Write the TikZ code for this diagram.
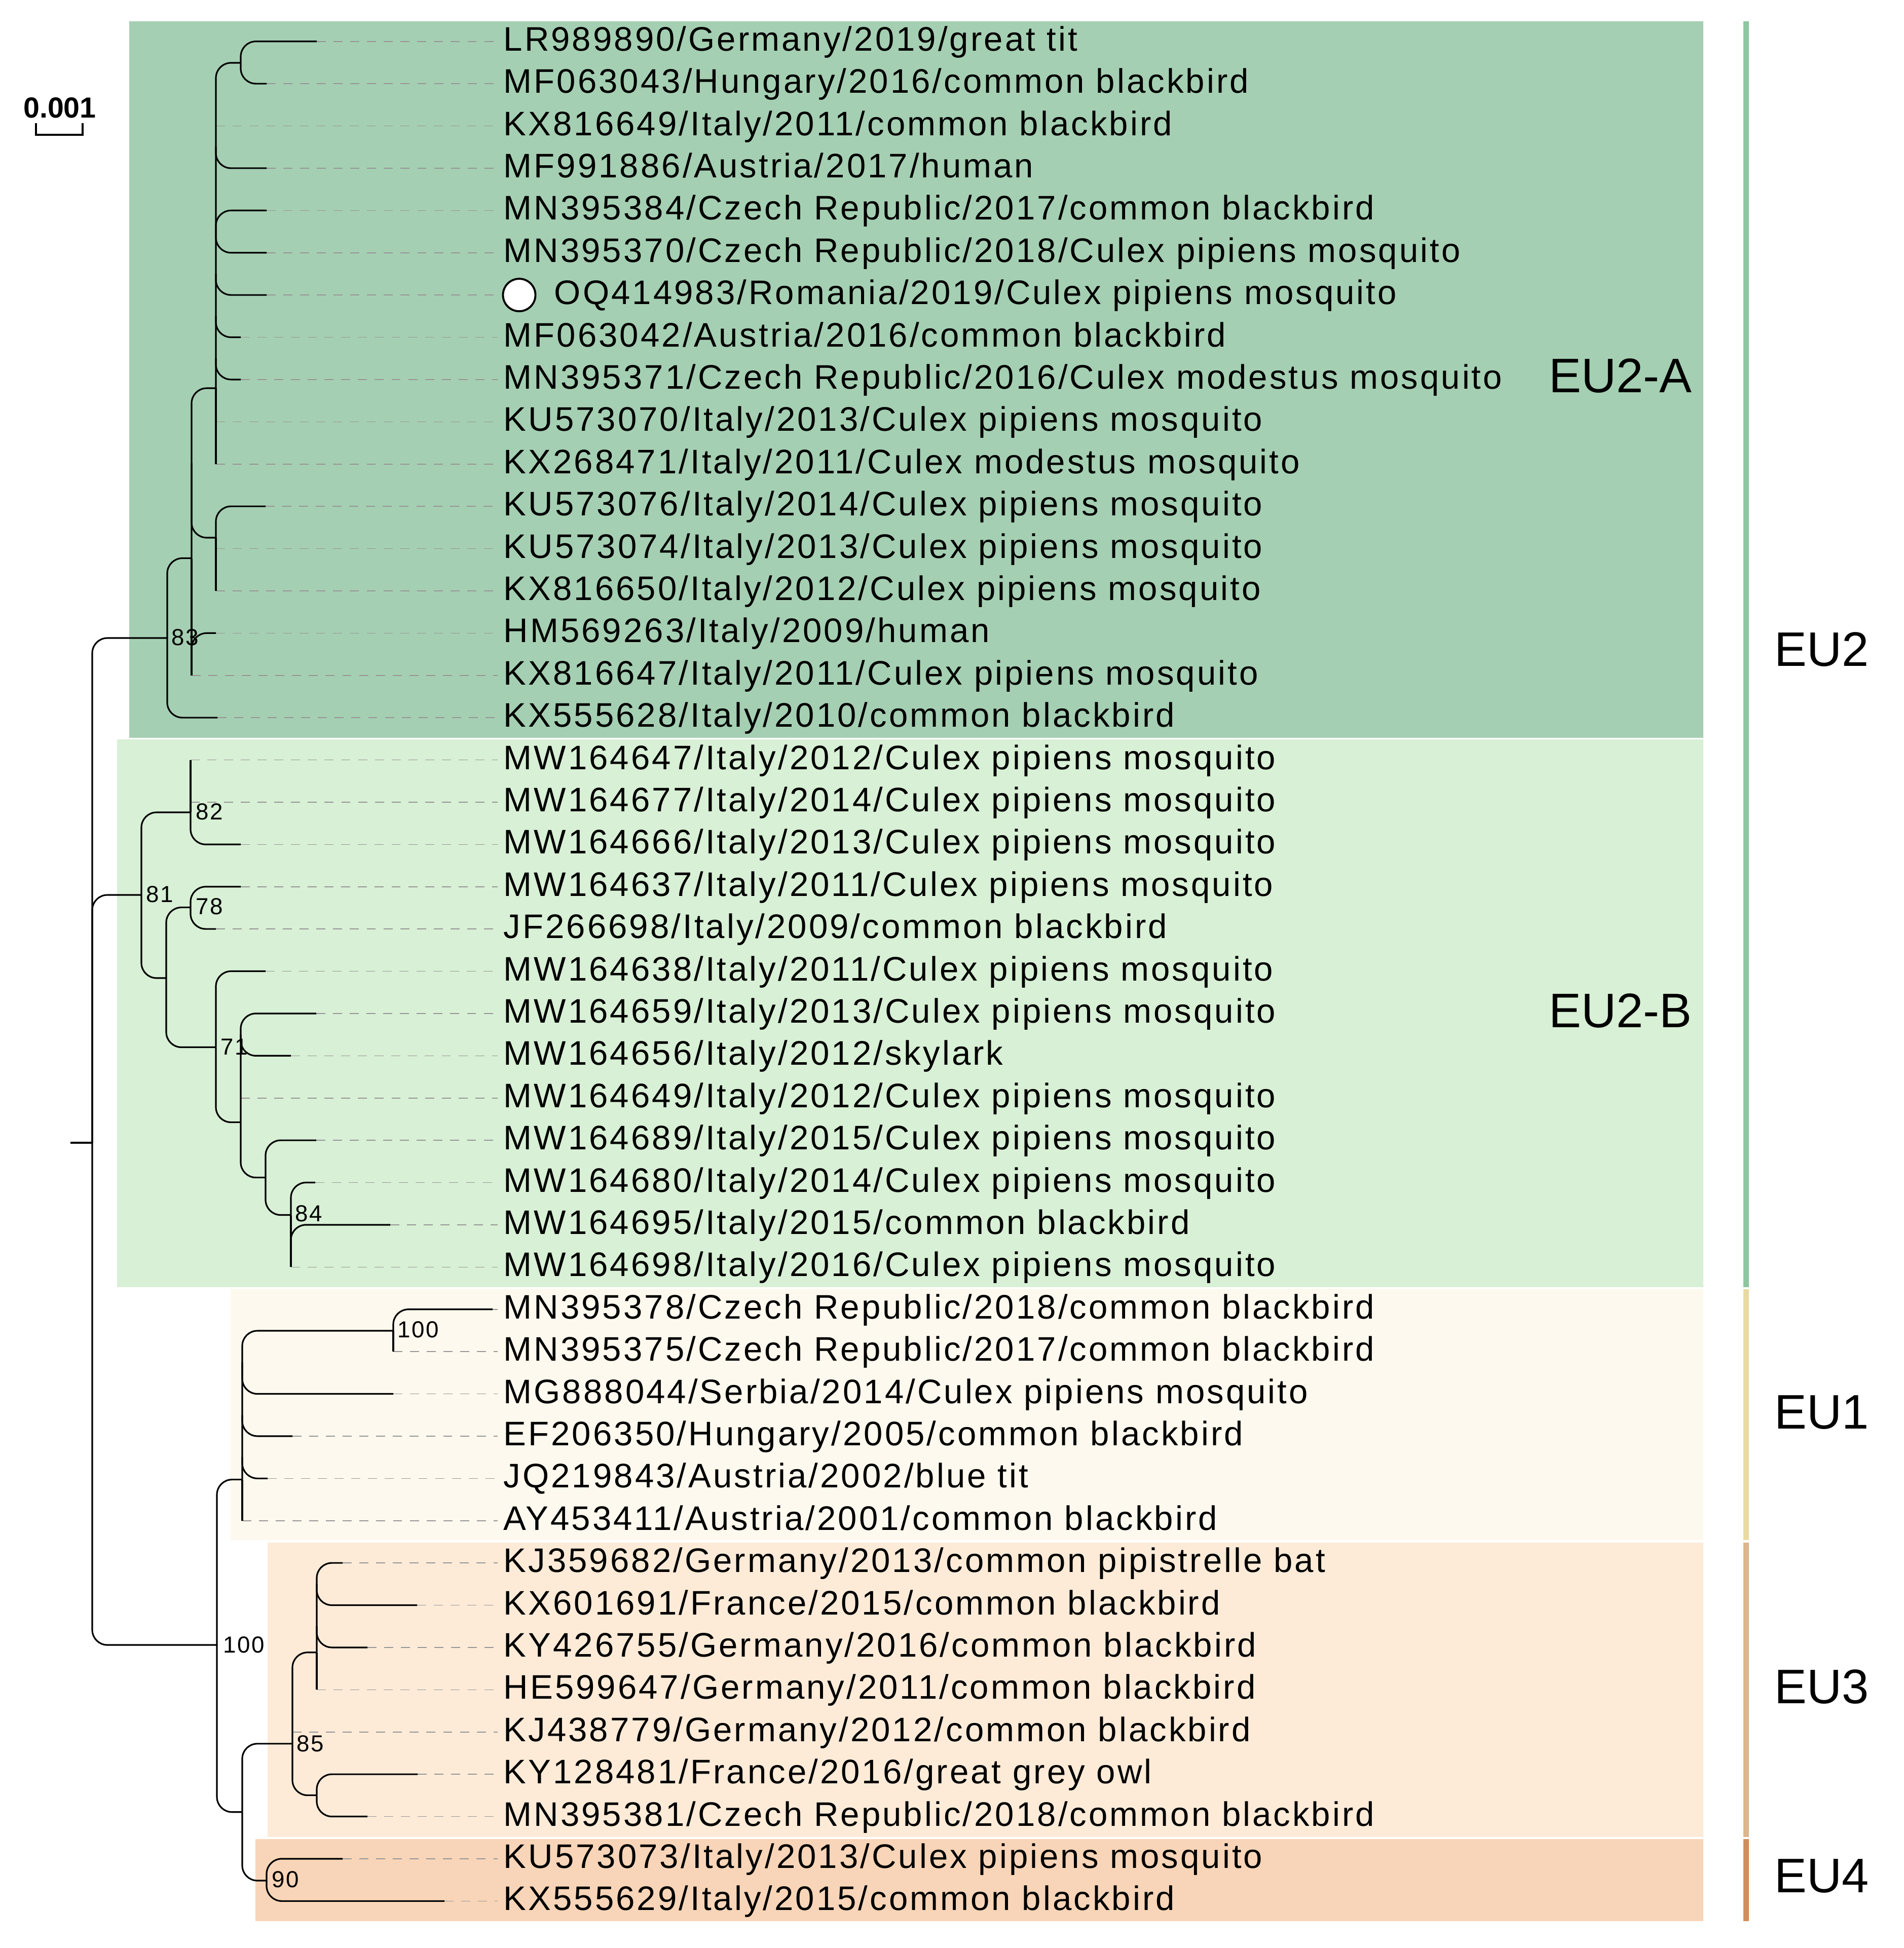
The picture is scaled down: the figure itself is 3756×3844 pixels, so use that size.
\documentclass[tikz,border=0pt]{standalone}
\usepackage{fontspec}
\setmainfont{Liberation Sans}
\newfontfamily\leaffont{Liberation Sans}[LetterSpace=6]
\newfontfamily\numfont{Liberation Sans}[LetterSpace=5]
\usetikzlibrary{calc}
\definecolor{bgA}{RGB}{165,207,178}
\definecolor{bgB}{RGB}{216,240,213}
\definecolor{bgC}{RGB}{254,249,238}
\definecolor{bgD}{RGB}{253,235,216}
\definecolor{bgE}{RGB}{248,213,184}
\definecolor{stA}{RGB}{142,198,159}
\definecolor{stC}{RGB}{233,218,163}
\definecolor{stD}{RGB}{220,182,141}
\definecolor{stE}{RGB}{207,142,90}
\definecolor{dashc}{RGB}{150,150,150}
\begin{document}
\begin{tikzpicture}[x=0.01cm, y=-0.01cm,
  br/.style={draw=black, line width=0.9pt, rounded corners=8.5pt},
  dl/.style={draw=dashc, line width=0.45pt, dash pattern=on 5.1pt off 4.3pt, shorten >=3.1pt},
  leaf/.style={anchor=west, inner sep=0pt, text height=10.6pt, text depth=0pt, font=\leaffont\fontsize{19.1pt}{22pt}\selectfont},
  boot/.style={anchor=west, inner sep=0pt, text height=9.3pt, text depth=0pt, font=\numfont\fontsize{13pt}{15pt}\selectfont},
  clade/.style={inner sep=0pt, text height=19.5pt, text depth=0pt, font=\fontsize{27.2pt}{32pt}\selectfont}]
\useasboundingbox (0,0) rectangle (3756,3844);
% backgrounds
\fill[bgA] (255,42) rectangle (3361,1456);
\fill[bgB] (231,1459) rectangle (3361,2540);
\fill[bgC] (455,2543) rectangle (3361,3039);
\fill[bgD] (528,3044) rectangle (3361,3625);
\fill[bgE] (504,3629) rectangle (3361,3791);
% side stripes
\fill[stA] (3440,42) rectangle (3451,2540);
\fill[stC] (3440,2544) rectangle (3451,3039);
\fill[stD] (3440,3044) rectangle (3451,3625);
\fill[stE] (3440,3629) rectangle (3451,3791);
% scale bar
\node[font=\bfseries\fontsize{16.3pt}{19pt}\selectfont, inner sep=0pt, text height=11.7pt, text depth=0pt] (scale) at (118,211.5) {0.001};
\coordinate (sbL) at (71,243);
\coordinate (sbR) at (163,243);
\draw[line width=1pt] (sbL) -- ++(0,23) -| (sbR);
% tips
\coordinate (t1) at (625,81.7);
\coordinate (t2) at (526,165.1);
\coordinate (t3) at (426,248.5);
\coordinate (t4) at (526,331.9);
\coordinate (t5) at (526,415.3);
\coordinate (t6) at (526,498.7);
\coordinate (t7) at (526,582.1);
\coordinate (t8) at (475,665.5);
\coordinate (t9) at (475,748.9);
\coordinate (t10) at (426,832.3);
\coordinate (t11) at (426,915.7);
\coordinate (t12) at (524,999.1);
\coordinate (t13) at (426,1082.5);
\coordinate (t14) at (426,1165.9);
\coordinate (t15) at (426,1249.3);
\coordinate (t16) at (378,1332.7);
\coordinate (t17) at (429,1416.1);
\coordinate (t18) at (376,1499.5);
\coordinate (t19) at (376,1582.9);
\coordinate (t20) at (475,1666.3);
\coordinate (t21) at (475,1749.7);
\coordinate (t22) at (426,1833.1);
\coordinate (t23) at (524,1916.5);
\coordinate (t24) at (624,1999.9);
\coordinate (t25) at (574,2083.3);
\coordinate (t26) at (475,2166.7);
\coordinate (t27) at (624,2250.1);
\coordinate (t28) at (622,2333.5);
\coordinate (t29) at (770,2416.9);
\coordinate (t30) at (574,2500.3);
\coordinate (t31) at (972,2583.7);
\coordinate (t32) at (776,2667.1);
\coordinate (t33) at (776,2750.5);
\coordinate (t34) at (577,2833.9);
\coordinate (t35) at (528,2917.3);
\coordinate (t36) at (478,3000.7);
\coordinate (t37) at (676,3084.1);
\coordinate (t38) at (823,3167.5);
\coordinate (t39) at (725,3250.9);
\coordinate (t40) at (625,3334.3);
\coordinate (t41) at (577,3417.7);
\coordinate (t42) at (824,3501.1);
\coordinate (t43) at (725,3584.5);
\coordinate (t44) at (676,3667.9);
\coordinate (t45) at (877,3751.3);
% internal nodes
\coordinate (rootL) at (139,2255);
\coordinate (root) at (182,2255);
\coordinate (nA) at (330,1259);
\coordinate (nC) at (378,1101.5);
\coordinate (nPoly) at (426,766);
\coordinate (nA12) at (475,124);
\coordinate (nB) at (426,1061);
\coordinate (nF) at (279,1766);
\coordinate (nE) at (376,1603);
\coordinate (nH) at (328,1930);
\coordinate (nG) at (376,1790.6);
\coordinate (nI) at (426,2066.5);
\coordinate (nJ) at (475,2214.6);
\coordinate (nK) at (524,2323.6);
\coordinate (nL) at (574,2397.5);
\coordinate (nO) at (428,3246);
\coordinate (nN) at (478,2919.6);
\coordinate (nM) at (776,2626);
\coordinate (nP) at (478,3575.7);
\coordinate (nQ) at (577,3440.8);
\coordinate (nR) at (625,3260.7);
\coordinate (nS) at (625,3542.6);
\coordinate (nT) at (526,3711);
% branch start points on verticals
\coordinate (s4) at (426,290.2);
\coordinate (s56) at (426,457);
\coordinate (s7) at (426,540.4);
\coordinate (s8) at (426,623.8);
\coordinate (s9) at (426,707.2);
\coordinate (sB) at (378,913.5);
\coordinate (s15) at (378,1291);
\coordinate (s25) at (475,2041.6);
\coordinate (s29) at (574,2458.6);
\coordinate (s33) at (478,2688);
\coordinate (s34) at (478,2792.2);
\coordinate (s35) at (478,2875.6);
\coordinate (s38) at (625,3125.8);
\coordinate (s39) at (625,3209.2);
% labels
\node[leaf] (l1) at (993,81.7) {LR989890/Germany/2019/great tit};
\node[leaf] (l2) at (993,165.1) {MF063043/Hungary/2016/common blackbird};
\node[leaf] (l3) at (993,248.5) {KX816649/Italy/2011/common blackbird};
\node[leaf] (l4) at (993,331.9) {MF991886/Austria/2017/human};
\node[leaf] (l5) at (993,415.3) {MN395384/Czech Republic/2017/common blackbird};
\node[leaf] (l6) at (993,498.7) {MN395370/Czech Republic/2018/Culex pipiens mosquito};
\node[circle, draw=black, fill=white, line width=1.1pt, minimum size=0.64cm, inner sep=0pt] (c7) at (1024.5,582.1) {};
\node[leaf] (l7) at (1093,582.1) {OQ414983/Romania/2019/Culex pipiens mosquito};
\node[leaf] (l8) at (993,665.5) {MF063042/Austria/2016/common blackbird};
\node[leaf] (l9) at (993,748.9) {MN395371/Czech Republic/2016/Culex modestus mosquito};
\node[leaf] (l10) at (993,832.3) {KU573070/Italy/2013/Culex pipiens mosquito};
\node[leaf] (l11) at (993,915.7) {KX268471/Italy/2011/Culex modestus mosquito};
\node[leaf] (l12) at (993,999.1) {KU573076/Italy/2014/Culex pipiens mosquito};
\node[leaf] (l13) at (993,1082.5) {KU573074/Italy/2013/Culex pipiens mosquito};
\node[leaf] (l14) at (993,1165.9) {KX816650/Italy/2012/Culex pipiens mosquito};
\node[leaf] (l15) at (993,1249.3) {HM569263/Italy/2009/human};
\node[leaf] (l16) at (993,1332.7) {KX816647/Italy/2011/Culex pipiens mosquito};
\node[leaf] (l17) at (993,1416.1) {KX555628/Italy/2010/common blackbird};
\node[leaf] (l18) at (993,1499.5) {MW164647/Italy/2012/Culex pipiens mosquito};
\node[leaf] (l19) at (993,1582.9) {MW164677/Italy/2014/Culex pipiens mosquito};
\node[leaf] (l20) at (993,1666.3) {MW164666/Italy/2013/Culex pipiens mosquito};
\node[leaf] (l21) at (993,1749.7) {MW164637/Italy/2011/Culex pipiens mosquito};
\node[leaf] (l22) at (993,1833.1) {JF266698/Italy/2009/common blackbird};
\node[leaf] (l23) at (993,1916.5) {MW164638/Italy/2011/Culex pipiens mosquito};
\node[leaf] (l24) at (993,1999.9) {MW164659/Italy/2013/Culex pipiens mosquito};
\node[leaf] (l25) at (993,2083.3) {MW164656/Italy/2012/skylark};
\node[leaf] (l26) at (993,2166.7) {MW164649/Italy/2012/Culex pipiens mosquito};
\node[leaf] (l27) at (993,2250.1) {MW164689/Italy/2015/Culex pipiens mosquito};
\node[leaf] (l28) at (993,2333.5) {MW164680/Italy/2014/Culex pipiens mosquito};
\node[leaf] (l29) at (993,2416.9) {MW164695/Italy/2015/common blackbird};
\node[leaf] (l30) at (993,2500.3) {MW164698/Italy/2016/Culex pipiens mosquito};
\node[leaf] (l31) at (993,2583.7) {MN395378/Czech Republic/2018/common blackbird};
\node[leaf] (l32) at (993,2667.1) {MN395375/Czech Republic/2017/common blackbird};
\node[leaf] (l33) at (993,2750.5) {MG888044/Serbia/2014/Culex pipiens mosquito};
\node[leaf] (l34) at (993,2833.9) {EF206350/Hungary/2005/common blackbird};
\node[leaf] (l35) at (993,2917.3) {JQ219843/Austria/2002/blue tit};
\node[leaf] (l36) at (993,3000.7) {AY453411/Austria/2001/common blackbird};
\node[leaf] (l37) at (993,3084.1) {KJ359682/Germany/2013/common pipistrelle bat};
\node[leaf] (l38) at (993,3167.5) {KX601691/France/2015/common blackbird};
\node[leaf] (l39) at (993,3250.9) {KY426755/Germany/2016/common blackbird};
\node[leaf] (l40) at (993,3334.3) {HE599647/Germany/2011/common blackbird};
\node[leaf] (l41) at (993,3417.7) {KJ438779/Germany/2012/common blackbird};
\node[leaf] (l42) at (993,3501.1) {KY128481/France/2016/great grey owl};
\node[leaf] (l43) at (993,3584.5) {MN395381/Czech Republic/2018/common blackbird};
\node[leaf] (l44) at (993,3667.9) {KU573073/Italy/2013/Culex pipiens mosquito};
\node[leaf] (l45) at (993,3751.3) {KX555629/Italy/2015/common blackbird};
% dashed leaders
\foreach \i in {1,...,6,8,9,...,45} \draw[dl] (t\i) -- (l\i.west |- t\i);
\draw[dl, shorten >=2.6pt] (t7) -- (c7.west);
% branches
\draw[br] (rootL) -- (root);
\draw[br] (root) |- (nA);
\draw[br] (root) |- (nF);
\draw[br] (root) |- (nO);
\draw[br] (nA) |- (nC);
\draw[br] (nA) |- (t17);
\draw[br] (nC) |- (nPoly);
\draw[br] (nC) -- (t16);
\draw[br] (sB) |- (nB);
\draw[br] (s15) |- (t15);
\draw[br] (nPoly) |- (nA12);
\draw[br] (nPoly) -- (t11);
\draw[br] (s4) |- (t4);
\draw[br] (s56) |- (t5);
\draw[br] (s56) |- (t6);
\draw[br] (s7) |- (t7);
\draw[br] (s8) |- (t8);
\draw[br] (s9) |- (t9);
\draw[br] (nA12) |- (t1);
\draw[br] (nA12) |- (t2);
\draw[br] (nB) |- (t12);
\draw[br] (nB) -- (t14);
\draw[br] (nF) |- (nE);
\draw[br] (nF) |- (nH);
\draw[br] (nE) -- (t18);
\draw[br] (nE) |- (t20);
\draw[br] (nH) |- (nG);
\draw[br] (nH) |- (nI);
\draw[br] (nG) |- (t21);
\draw[br] (nG) |- (t22);
\draw[br] (nI) |- (t23);
\draw[br] (nI) |- (nJ);
\draw[br] (nJ) |- (t24);
\draw[br] (s25) |- (t25);
\draw[br] (nJ) |- (nK);
\draw[br] (nK) |- (t27);
\draw[br] (nK) |- (nL);
\draw[br] (nL) |- (t28);
\draw[br] (s29) |- (t29);
\draw[br] (nL) -- (t30);
\draw[br] (nO) |- (nN);
\draw[br] (nO) |- (nP);
\draw[br] (nN) |- (nM);
\draw[br] (nM) |- (t31);
\draw[br] (nM) -- (t32);
\draw[br] (s33) |- (t33);
\draw[br] (s34) |- (t34);
\draw[br] (s35) |- (t35);
\draw[br] (nN) -- (t36);
\draw[br] (nP) |- (nQ);
\draw[br] (nP) |- (nT);
\draw[br] (nQ) |- (nR);
\draw[br] (nQ) |- (nS);
\draw[br] (nR) |- (t37);
\draw[br] (s38) |- (t38);
\draw[br] (s39) |- (t39);
\draw[br] (nR) -- (t40);
\draw[br] (nS) |- (t42);
\draw[br] (nS) |- (t43);
\draw[br] (nT) |- (t44);
\draw[br] (nT) |- (t45);
% support values
\node[boot] (b83) at (338,1257) {83};
\node[boot] (b82) at (386,1601) {82};
\node[boot] (b81) at (288,1764) {81};
\node[boot] (b78) at (386,1788) {78};
\node[boot] (b71) at (435,2065) {71};
\node[boot] (b84) at (582,2394) {84};
\node[boot] (b100a) at (784,2623) {100};
\node[boot] (b100b) at (440,3245) {100};
\node[boot] (b85) at (585,3440) {85};
\node[boot] (b90) at (536,3708) {90};
% clade labels
\node[clade, anchor=east] (cEUA) at (3339,740) {EU2-A};
\node[clade, anchor=east] (cEUB) at (3339,1993) {EU2-B};
\node[clade, anchor=west] (cEU2) at (3501,1280) {EU2};
\node[clade, anchor=west] (cEU1) at (3501,2785) {EU1};
\node[clade, anchor=west] (cEU3) at (3501,3327) {EU3};
\node[clade, anchor=west] (cEU4) at (3501,3700) {EU4};
\end{tikzpicture}
\end{document}
